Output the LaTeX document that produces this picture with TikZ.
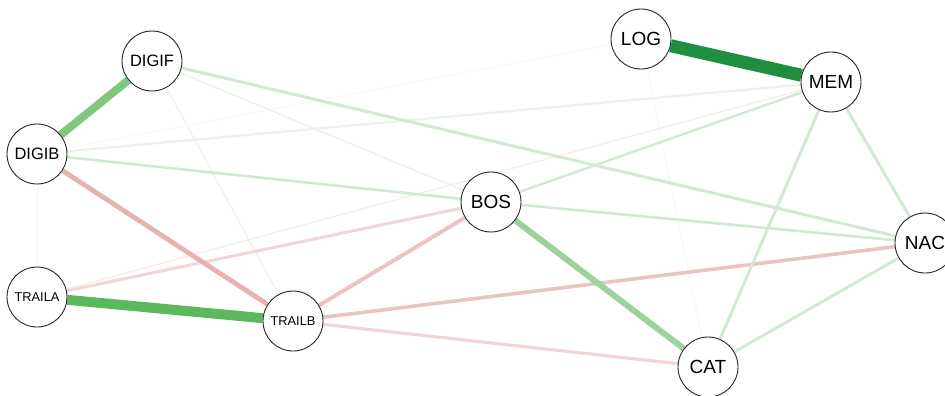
\documentclass[tikz,border=0pt]{standalone}
\usepackage{fontspec}
\setmainfont{Liberation Sans}
\usepackage{tikz}
\usetikzlibrary{backgrounds}
\definecolor{posdark}{HTML}{1F8F3F}
\definecolor{posmid}{HTML}{5CB85C}
\definecolor{poslight}{HTML}{7DC87D}
\definecolor{pospale}{HTML}{9DD29D}
\definecolor{posfaint}{HTML}{D2EAD2}
\definecolor{posghost}{HTML}{E8F4E8}
\definecolor{negmid}{HTML}{E8B2B2}
\definecolor{neglight}{HTML}{EDC2C2}
\definecolor{negpale}{HTML}{F2D6D6}
\definecolor{negghost}{HTML}{F8EAEA}
\definecolor{zeroghost}{HTML}{F4F4F4}

\begin{document}
\begin{tikzpicture}[
  x=1pt,y=-1pt,
  var/.style={circle,draw=black!85,fill=white,line width=0.9pt,minimum size=60pt,inner sep=0pt},
  edgeline/.style={line width=#1},
]
\useasboundingbox (0,0) rectangle (945,396);
\clip (0,0) rectangle (945,396);

\node[var,font=\fontsize{16.5}{18}\selectfont] (digif) at (152,61) {DIGIF};
\node[var,font=\fontsize{16.5}{18}\selectfont] (digib) at (37,154) {DIGIB};
\node[var,font=\fontsize{12.8}{14}\selectfont] (traila) at (37,297) {TRAILA};
\node[var,font=\fontsize{12.8}{14}\selectfont] (trailb) at (293,321) {TRAILB};
\node[var,font=\fontsize{19}{21}\selectfont] (bos) at (491,202) {BOS};
\node[var,font=\fontsize{19}{21}\selectfont] (log) at (641,39) {LOG};
\node[var,font=\fontsize{19}{21}\selectfont] (mem) at (831,82) {MEM};
\node[var,font=\fontsize{19}{21}\selectfont] (nac) at (925,243) {NAC};
\node[var,font=\fontsize{19}{21}\selectfont] (cat) at (708,367) {CAT};

\begin{scope}[on background layer]
% faint links
\draw[zeroghost,edgeline=0.7pt] (digib) -- (traila);
\draw[zeroghost,edgeline=0.7pt] (log) -- (cat);
\draw[zeroghost,edgeline=0.7pt] (digib) -- (log);
\draw[negghost,edgeline=1pt] (digif) -- (trailb);
\draw[negghost,edgeline=1.2pt] (traila) -- (mem);
\draw[posghost,edgeline=1.6pt] (digif) -- (bos);
\draw[posghost,edgeline=2.2pt] (digib) -- (mem);
% negative links
\draw[negpale,edgeline=3pt] (traila) -- (bos);
\draw[negpale,edgeline=3.2pt] (trailb) -- (cat);
\draw[neglight,edgeline=3.6pt] (trailb) -- (nac);
\draw[neglight,edgeline=4pt] (trailb) -- (bos);
\draw[negmid,edgeline=4.8pt] (digib) -- (trailb);
% positive links
\draw[posfaint,edgeline=2.6pt] (digib) -- (bos);
\draw[posfaint,edgeline=2.4pt] (bos) -- (mem);
\draw[posfaint,edgeline=2.6pt] (bos) -- (nac);
\draw[posfaint,edgeline=3pt] (digif) -- (nac);
\draw[posfaint,edgeline=3pt] (mem) -- (cat);
\draw[posfaint,edgeline=3pt] (mem) -- (nac);
\draw[posfaint,edgeline=3pt] (nac) -- (cat);
\draw[pospale,edgeline=6pt] (bos) -- (cat);
\draw[poslight,edgeline=8pt] (digif) -- (digib);
\draw[posmid,edgeline=10pt] (traila) -- (trailb);
\draw[posdark,edgeline=13pt] (log) -- (mem);
\end{scope}
\end{tikzpicture}
\end{document}
